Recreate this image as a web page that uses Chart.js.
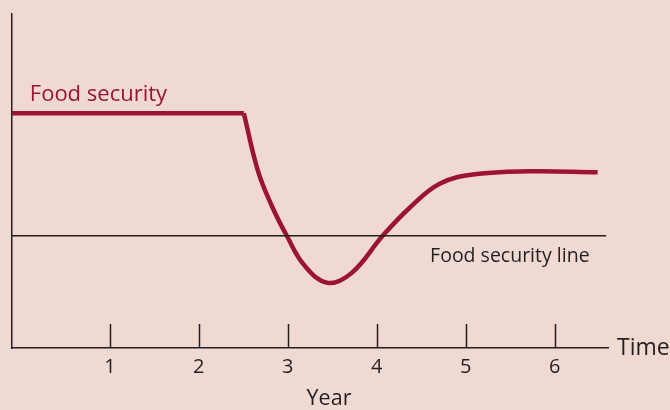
<!DOCTYPE html>
<html>
<head>
<meta charset="utf-8">
<script src="https://cdn.jsdelivr.net/npm/chart.js@4/dist/chart.umd.min.js"></script>
<style>
  html, body { margin: 0; padding: 0; background: #f1d9d3; }
  #wrap { width: 670px; height: 410px; position: relative; }
</style>
</head>
<body>
<div id="wrap"><canvas id="c"></canvas></div>
<script>
// ---- data ----
const xTicks = [1, 2, 3, 4, 5, 6];
const flatX = [-0.1, 2.506];
const flatY = [70.3, 70.3];
const curveX = [2.506, 2.663, 2.820, 2.989, 3.191, 3.449, 3.719, 4.067, 4.371, 4.708, 5.101, 5.719, 6.483];
const curveY = [70.3, 53.2, 42.6, 33.6, 24.6, 19.5, 22.5, 33.6, 42.0, 49.2, 52.0, 52.9, 52.6];
const thresholdX = [-0.1, 6.58];
const thresholdY = [33.6, 33.6];
const seriesLabel = 'Food security';
const thresholdLabel = 'Food security line';
const xTitle = 'Year';
const xEndLabel = 'Time';

const RED = '#9b1532';
const INK = '#231f20';
const BG = '#f1d9d3';
const FONT = '"Open Sans", "Noto Sans", sans-serif';

const toPts = (xs, ys) => xs.map((v, i) => ({ x: v, y: ys[i] }));

const decor = {
  id: 'decor',
  beforeDraw(chart) {
    const ctx = chart.ctx;
    ctx.save();
    ctx.fillStyle = BG;
    ctx.fillRect(0, 0, chart.width, chart.height);
    ctx.restore();
  },
  afterDraw(chart) {
    const { ctx, chartArea } = chart;
    const x = chart.scales.x, y = chart.scales.y;
    ctx.save();
    // upward tick marks on the x axis
    ctx.strokeStyle = INK;
    ctx.lineWidth = 1.5;
    x.ticks.forEach(t => {
      const px = Math.round(x.getPixelForValue(t.value)) + 0.5;
      ctx.beginPath();
      ctx.moveTo(px, chartArea.bottom);
      ctx.lineTo(px, chartArea.bottom - 24);
      ctx.stroke();
    });
    // series label
    ctx.fillStyle = RED;
    ctx.font = '22px ' + FONT;
    ctx.textAlign = 'left';
    ctx.textBaseline = 'alphabetic';
    ctx.fillText(seriesLabel, x.getPixelForValue(0.1), y.getPixelForValue(flatY[0]) - 12);
    // threshold label
    ctx.fillStyle = INK;
    ctx.font = '19.5px ' + FONT;
    ctx.fillText(thresholdLabel, x.getPixelForValue(4.6), y.getPixelForValue(thresholdY[0]) + 26);
    // axis end label
    ctx.font = '23px ' + FONT;
    ctx.textBaseline = 'middle';
    ctx.fillText(xEndLabel, chartArea.right + 9, chartArea.bottom);
    // axis title
    ctx.textAlign = 'center';
    ctx.font = '21.5px ' + FONT;
    ctx.fillText(xTitle, 329, 399);
    ctx.restore();
  }
};

new Chart(document.getElementById('c'), {
  type: 'line',
  data: {
    datasets: [
      {
        data: toPts(thresholdX, thresholdY),
        borderColor: INK, borderWidth: 1.5, pointRadius: 0, tension: 0
      },
      {
        data: toPts(flatX, flatY),
        borderColor: RED, borderWidth: 4.5, pointRadius: 0, tension: 0,
        borderCapStyle: 'butt'
      },
      {
        data: toPts(curveX, curveY),
        borderColor: RED, borderWidth: 4.5, pointRadius: 0,
        tension: 0.4, borderJoinStyle: 'round'
      }
    ]
  },
  options: {
    responsive: true,
    maintainAspectRatio: false,
    animation: false,
    events: [],
    layout: { padding: { left: 12, right: 62, top: 14, bottom: 23 } },
    plugins: { legend: { display: false }, tooltip: { enabled: false } },
    scales: {
      x: {
        type: 'linear',
        min: -0.1,
        max: 6.6,
        afterBuildTicks: s => { s.ticks = xTicks.map(v => ({ value: v })); },
        grid: { display: true, drawOnChartArea: false, drawTicks: false },
        border: { display: true, color: INK, width: 1.5 },
        ticks: { color: INK, font: { family: FONT, size: 20 }, padding: 7.5, maxRotation: 0 }
      },
      y: {
        type: 'linear',
        min: 0,
        max: 100,
        grid: { display: true, drawOnChartArea: false, drawTicks: false },
        border: { display: true, color: INK, width: 1.5 },
        ticks: { display: false }
      }
    }
  },
  plugins: [decor]
});
</script>
</body>
</html>
